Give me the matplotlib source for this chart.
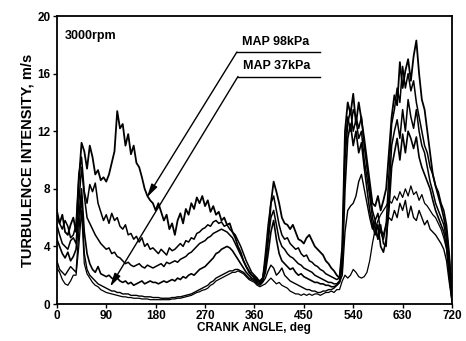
import matplotlib.pyplot as plt
import numpy as np

plt.rcParams["font.family"] = ["Liberation Sans", "DejaVu Sans"]
plt.rcParams["font.weight"] = "bold"

# crank angle samples, deg
crank_angle = np.arange(0, 725, 5)

# turbulence intensity, m/s -- one trace per manifold pressure, highest load first
map_98 = [
    6.5, 5.6, 6.2, 5.0, 4.8, 5.5, 6.0, 5.0, 8.5, 11.2, 10.6, 9.4, 11.0, 10.2, 9.0, 9.3, 8.6, 8.8,
    8.5, 9.0, 9.8, 10.6, 13.4, 12.2, 12.5, 11.0, 11.8, 10.4, 11.0, 9.8, 9.5, 8.8, 8.0, 7.5, 7.2, 7.0,
    6.5, 7.0, 6.4, 5.8, 6.2, 5.2, 5.6, 4.8, 5.8, 6.3, 5.6, 6.6, 6.2, 7.0, 6.6, 7.4, 7.0, 7.5,
    6.8, 7.2, 6.4, 6.8, 6.2, 6.4, 5.8, 6.0, 5.5, 5.6, 5.0, 4.6, 4.0, 3.6, 3.0, 2.6, 2.3, 2.0,
    1.9, 1.7, 1.6, 1.8, 2.5, 4.5, 7.0, 8.5, 7.8, 7.0, 6.0, 5.6, 5.5, 5.2, 5.5, 5.0, 4.5, 4.4,
    4.2, 4.6, 4.8, 4.4, 4.0, 3.8, 3.6, 3.4, 3.0, 2.8, 2.5, 2.3, 2.0, 1.8, 4.0, 12.0, 14.0, 13.2,
    14.6, 12.5, 14.0, 12.8, 11.5, 10.0, 8.5, 7.0, 6.8, 7.5, 6.5, 7.2, 8.0, 10.5, 13.0, 14.5, 13.8, 16.8,
    15.0, 16.2, 17.0, 15.5, 17.2, 18.3, 16.0, 14.2, 13.5, 12.0, 10.5, 9.0, 8.2, 7.5, 6.8, 6.0, 5.0, 3.0,
    0.8,
]
map_85 = [
    6.0, 5.6, 5.2, 5.8, 5.4, 4.6, 4.8, 5.5, 9.0, 10.2, 7.8, 7.0, 8.3, 7.8, 8.4, 7.0, 6.4, 5.8,
    6.2, 5.6, 6.3, 5.8, 6.0, 5.4, 5.2, 5.5, 4.8, 4.9, 4.5, 4.7, 4.3, 4.6, 4.0, 4.2, 3.8, 3.9,
    3.7, 3.5, 3.8, 3.6, 3.4, 3.9, 3.7, 3.8, 4.0, 4.2, 4.0, 4.4, 4.3, 4.6, 4.5, 4.9, 5.0, 5.2,
    5.3, 5.5, 5.4, 5.7, 5.8, 5.6, 5.7, 5.4, 5.5, 5.2, 5.0, 4.8, 4.4, 4.0, 3.5, 3.0, 2.6, 2.2,
    2.0, 1.8, 1.5, 1.7, 3.5, 5.5, 7.0, 7.5, 6.5, 5.5, 4.8, 4.5, 4.6, 4.2, 4.0, 3.8, 3.9, 3.5,
    3.3, 3.4, 3.0, 2.9, 2.7, 2.6, 2.4, 2.3, 2.1, 2.0, 1.9, 1.8, 1.7, 1.8, 3.5, 11.0, 13.0, 12.0,
    13.5, 13.0, 12.2, 13.0, 11.0, 9.5, 8.0, 6.5, 5.8, 6.3, 5.0, 4.5, 5.5, 9.0, 12.5, 13.5, 15.0, 14.0,
    16.5, 15.0, 16.0, 14.8, 15.5, 14.0, 13.0, 12.0, 11.0, 10.5, 9.5, 9.0, 8.2, 7.8, 7.0, 6.5, 5.5, 3.5,
    0.5,
]
map_70 = [
    5.5, 4.8, 4.2, 4.0, 3.8, 4.4, 4.6, 4.2, 7.0, 9.5, 7.5, 6.0, 5.6, 5.2, 4.8, 4.5, 4.2, 4.0,
    3.8, 3.9, 3.5, 3.6, 3.3, 3.2, 3.0, 2.8, 2.9, 2.7, 2.6, 2.7, 2.8, 2.6, 2.5, 2.7, 2.6, 2.5,
    2.6, 2.7, 2.8, 2.6, 2.9, 2.8, 2.9, 3.0, 2.9, 3.1, 3.2, 3.3, 3.5, 3.6, 3.8, 4.0, 4.2, 4.3,
    4.4, 4.6, 4.7, 4.9, 5.0, 5.1, 5.2, 5.1, 5.0, 4.8, 4.6, 4.2, 3.8, 3.4, 3.0, 2.6, 2.2, 2.0,
    1.8, 1.6, 1.5, 1.8, 3.0, 4.5, 6.0, 6.5, 5.5, 4.5, 4.0, 3.8, 3.5, 3.3, 3.2, 3.0, 2.8, 2.7,
    2.5, 2.4, 2.3, 2.2, 2.0, 1.9, 1.8, 1.7, 1.6, 1.5, 1.5, 1.4, 1.4, 1.6, 3.0, 10.0, 12.5, 13.5,
    12.0, 12.8, 11.5, 12.0, 10.0, 8.8, 7.5, 6.0, 5.2, 4.5, 5.5, 4.2, 4.0, 7.5, 11.0, 12.0, 12.8, 11.5,
    13.5, 12.0, 14.2, 13.0, 12.2, 13.5, 12.0, 11.0, 10.5, 9.5, 8.5, 7.8, 7.0, 6.5, 6.0, 5.5, 4.5, 2.5,
    0.3,
]
map_55 = [
    4.5, 4.0, 3.5, 3.2, 3.6, 3.0, 3.3, 3.8, 6.0, 8.0, 5.0, 3.5, 2.8, 2.4, 2.2, 2.6, 2.1, 2.0,
    1.9, 2.0, 1.8, 1.7, 1.8, 1.6, 1.5, 1.6, 1.4, 1.5, 1.3, 1.4, 1.5, 1.6, 1.4, 1.5, 1.6, 1.5,
    1.5, 1.4, 1.5, 1.6, 1.5, 1.6, 1.7, 1.6, 1.8, 1.7, 1.9, 1.8, 2.0, 2.1, 2.0, 2.2, 2.4, 2.5,
    2.6, 2.8, 3.0, 3.2, 3.5, 3.6, 3.8, 3.9, 4.0, 3.9, 3.7, 3.4, 3.1, 2.8, 2.5, 2.2, 2.0, 1.8,
    1.7, 1.5, 1.4, 1.6, 2.2, 3.5, 5.0, 5.8, 4.5, 3.5, 3.0, 2.8, 2.6, 2.4, 2.5, 2.2, 2.0, 2.1,
    1.9, 1.8, 1.7, 1.6, 1.5, 1.5, 1.4, 1.4, 1.3, 1.3, 1.2, 1.2, 1.3, 1.5, 2.5, 8.0, 11.5, 12.5,
    11.0, 12.0, 10.5, 11.2, 9.5, 8.0, 6.5, 5.5, 4.8, 5.5, 4.0, 3.6, 4.5, 6.5, 9.5, 10.5, 11.5, 10.0,
    11.8, 10.5, 12.0, 11.5, 10.8, 11.6, 10.2, 9.5, 9.0, 8.5, 8.0, 7.2, 6.5, 6.0, 5.5, 5.0, 4.0, 2.0,
    0.2,
]
map_45 = [
    3.0, 2.4, 2.2, 2.0, 2.3, 2.6, 2.4, 2.2, 5.0, 7.5, 3.5, 2.4, 2.0, 1.8, 1.6, 1.4, 1.3, 1.2,
    1.1, 1.0, 0.9, 0.9, 0.8, 0.8, 0.7, 0.7, 0.7, 0.6, 0.6, 0.6, 0.55, 0.55, 0.5, 0.5, 0.5, 0.45,
    0.45, 0.45, 0.4, 0.4, 0.4, 0.4, 0.45, 0.45, 0.5, 0.5, 0.55, 0.6, 0.65, 0.7, 0.8, 0.9, 1.0, 1.1,
    1.2, 1.3, 1.5, 1.6, 1.8, 1.9, 2.0, 2.1, 2.2, 2.3, 2.3, 2.4, 2.4, 2.3, 2.2, 2.0, 1.8, 1.7,
    1.6, 1.4, 1.3, 1.5, 1.8, 2.3, 2.7, 2.5, 2.0, 2.2, 2.5, 2.0, 1.8, 1.6, 1.5, 1.4, 1.3, 1.2,
    1.1, 1.0, 1.0, 0.9, 0.9, 0.8, 0.8, 0.9, 0.9, 1.0, 1.0, 1.1, 1.3, 1.5, 2.0, 5.0, 6.5, 6.8,
    7.0, 7.5, 8.5, 9.0, 8.0, 7.0, 6.0, 5.2, 5.8, 4.5, 5.2, 4.8, 5.6, 6.0, 5.8, 6.5, 6.0, 7.0,
    6.5, 7.2, 6.0, 6.8, 6.0, 5.8, 6.5, 6.0, 5.5, 5.8, 5.2, 5.0, 4.8, 4.5, 4.2, 3.8, 3.0, 1.5,
    0.2,
]
map_37 = [
    2.5, 2.2, 1.7, 1.4, 1.3, 1.6, 2.0, 2.0, 4.0, 6.5, 2.8, 2.1, 1.8, 1.5, 1.3, 1.2, 1.0, 0.9,
    0.8, 0.75, 0.7, 0.65, 0.6, 0.55, 0.5, 0.5, 0.45, 0.45, 0.4, 0.4, 0.4, 0.35, 0.35, 0.35, 0.3, 0.3,
    0.3, 0.3, 0.3, 0.3, 0.3, 0.3, 0.35, 0.35, 0.4, 0.4, 0.45, 0.5, 0.55, 0.6, 0.7, 0.8, 0.85, 0.95,
    1.0, 1.1, 1.3, 1.4, 1.6, 1.7, 1.8, 1.9, 2.0, 2.1, 2.2, 2.2, 2.3, 2.2, 2.1, 1.9, 1.7, 1.6,
    1.5, 1.3, 1.2, 1.3, 1.4, 1.6, 1.8, 1.6, 1.4, 1.5, 1.3, 1.2, 1.1, 0.9, 0.8, 0.7, 0.7, 0.6,
    0.7, 0.6, 0.7, 0.6, 0.7, 0.7, 0.6, 0.7, 0.8, 0.8, 0.9, 0.8, 1.0, 1.0, 1.6, 2.0, 1.8, 2.0,
    2.4, 2.2, 1.9, 1.8, 1.9, 2.2, 3.0, 4.2, 5.2, 5.8, 6.2, 6.5, 6.8, 7.2, 7.0, 7.5, 7.2, 7.8,
    7.4, 8.0, 7.5, 8.2, 7.6, 7.8, 7.2, 7.6, 7.0, 6.8, 6.5, 6.2, 6.0, 5.6, 5.2, 4.6, 3.8, 2.0,
    0.3,
]

traces = [map_98, map_85, map_70, map_55, map_45, map_37]
widths = [1.3, 1.1, 1.1, 1.2, 1.0, 0.9]

x_ticks = [0, 90, 180, 270, 360, 450, 540, 630, 720]
y_ticks = [0, 4, 8, 12, 16, 20]

fig = plt.figure(figsize=(4.66, 3.41), dpi=100, facecolor="white")
ax = fig.add_axes([0.122, 0.1085, 0.848, 0.8445])

for values, lw in zip(traces, widths):
    ax.plot(crank_angle, values, color="black", linewidth=lw)

ax.set_xlim(0, 720)
ax.set_ylim(0, 20)
ax.set_xticks(x_ticks)
ax.set_yticks(y_ticks)
ax.tick_params(direction="out", length=3, width=1.0, labelsize=8.5, pad=1.5)
for spine in ax.spines.values():
    spine.set_linewidth(1.3)

ax.set_xlabel("CRANK ANGLE, deg", fontsize=8.5, fontweight="bold", labelpad=0)
ax.set_ylabel("TURBULENCE INTENSITY, m/s", fontsize=10.5, fontweight="bold", labelpad=2)

ax.text(14, 18.6, "3000rpm", fontsize=9, fontweight="bold", va="center")

# leader lines for the two labelled loads
labels = ["MAP 98kPa", "MAP 37kPa"]
elbows = [(328, 17.5), (330, 15.8)]
tips = [(164, 7.4), (97, 1.2)]
for text, (ex, ey), (tx, ty) in zip(labels, elbows, tips):
    ax.plot([ex, 480], [ey, ey], color="black", linewidth=1.0)
    ax.text(ex + 10, ey + 0.3, text, fontsize=9, fontweight="bold", va="bottom")
    ax.annotate(
        "",
        xy=(tx, ty),
        xytext=(ex, ey),
        arrowprops=dict(arrowstyle="-|>,head_length=0.8,head_width=0.2",
                        color="black", linewidth=1.0, shrinkA=0, shrinkB=0),
    )

fig.savefig("out.png", dpi=100, facecolor="white")
